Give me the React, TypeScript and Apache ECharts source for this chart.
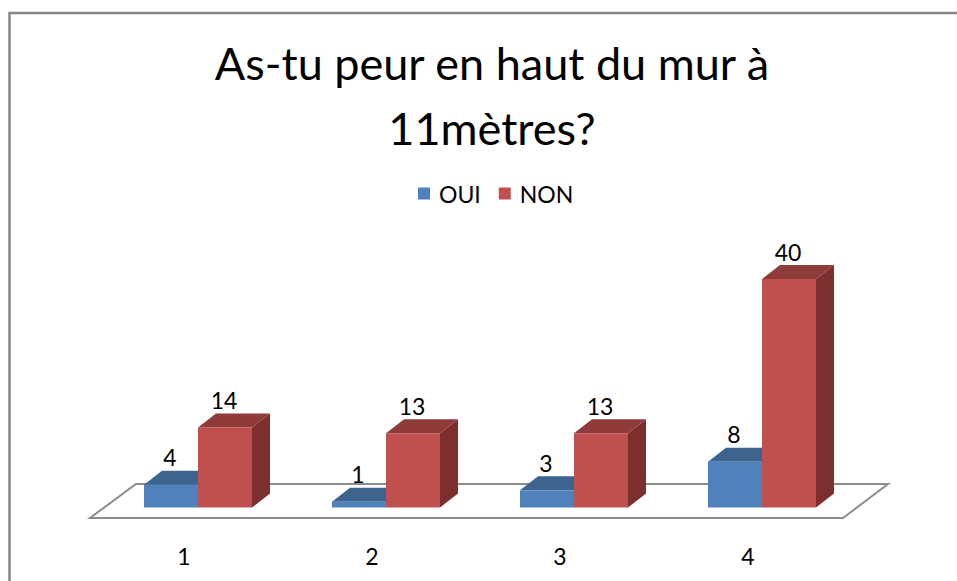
import React, { useEffect, useRef } from "react";
import * as echarts from "echarts";

const titleText = "As-tu peur en haut du mur à\n11mètres?";
const categories = ["1", "2", "3", "4"];
const ouiValues = [4, 1, 3, 8];
const nonValues = [14, 13, 13, 40];

const FONT = "Lato, 'Open Sans', sans-serif";
const BAR_W = 54;
const DX = 18;
const DY = 14;

const shade = {
  OUI: { front: "#4F81BD", top: "#3D638F", side: "#335378" },
  NON: { front: "#C0504D", top: "#8F3B39", side: "#7B302E" },
};

function bar3d(colors: { front: string; top: string; side: string }, offset: number) {
  return (_params: any, api: any) => {
    const idx = api.value(0);
    const val = api.value(1);
    const [cx, top] = api.coord([idx, val]);
    const [, base] = api.coord([idx, 0]);
    const l = cx + offset;
    const r = l + BAR_W;
    return {
      type: "group",
      children: [
        {
          type: "polygon",
          shape: { points: [[r, top], [r + DX, top - DY], [r + DX, base - DY], [r, base]] },
          style: { fill: colors.side },
        },
        {
          type: "polygon",
          shape: { points: [[l, top], [l + DX, top - DY], [r + DX, top - DY], [r, top]] },
          style: { fill: colors.top },
        },
        {
          type: "rect",
          shape: { x: l, y: top, width: BAR_W, height: base - top },
          style: { fill: colors.front },
        },
        {
          type: "text",
          style: {
            text: String(val),
            x: l + BAR_W / 2 - 1,
            y: top - 27.5,
            align: "center",
            verticalAlign: "middle",
            fontFamily: FONT,
            fontSize: 23,
            fill: "#000",
          },
        },
      ],
    };
  };
}

export default function App() {
  const ref = useRef<HTMLDivElement>(null);
  useEffect(() => {
    const chart = echarts.init(ref.current!, null, { renderer: "svg" });
    chart.setOption({
      animation: false,
      backgroundColor: "#fff",
      title: {
        text: titleText,
        left: 487,
        top: 25,
        textAlign: "center",
        textStyle: {
          fontFamily: FONT,
          fontSize: 45,
          fontWeight: "normal",
          color: "#000",
          lineHeight: 65,
        },
      },
      legend: {
        data: ["OUI", "NON"],
        left: 413,
        top: 177,
        icon: "rect",
        itemWidth: 12,
        itemHeight: 12,
        itemGap: 18,
        textStyle: { fontFamily: FONT, fontSize: 23, color: "#000", padding: [0, 0, 0, 4] },
      },
      grid: { left: 90, top: 279, width: 752, height: 228.5 },
      xAxis: {
        type: "category",
        data: categories,
        axisLine: { show: false },
        axisTick: { show: false },
        axisLabel: { fontFamily: FONT, fontSize: 23, color: "#000", margin: 37 },
      },
      yAxis: { type: "value", min: 0, max: 40, show: false },
      graphic: [
        {
          type: "polyline",
          silent: true,
          z: 0,
          shape: { points: [[9.5, 581], [9.5, 13], [957, 13]] },
          style: { stroke: "#868686", lineWidth: 2.5, fill: "none" },
        },
        {
          type: "polygon",
          silent: true,
          z: 0,
          shape: { points: [[90, 518], [843, 518], [888, 484], [136, 484]] },
          style: { stroke: "#8C8C8C", lineWidth: 2, fill: "#fff" },
        },
      ],
      series: [
        {
          name: "OUI",
          type: "custom",
          itemStyle: { color: shade.OUI.front },
          encode: { x: 0, y: 1 },
          renderItem: bar3d(shade.OUI, -40),
          data: ouiValues.map((v, i) => [i, v]),
        },
        {
          name: "NON",
          type: "custom",
          itemStyle: { color: shade.NON.front },
          encode: { x: 0, y: 1 },
          renderItem: bar3d(shade.NON, 14),
          data: nonValues.map((v, i) => [i, v]),
        },
      ],
    });
    return () => chart.dispose();
  }, []);
  return (
    <div
      ref={ref}
      style={{ position: "absolute", left: 0, top: 0, width: 957, height: 581 }}
    />
  );
}
